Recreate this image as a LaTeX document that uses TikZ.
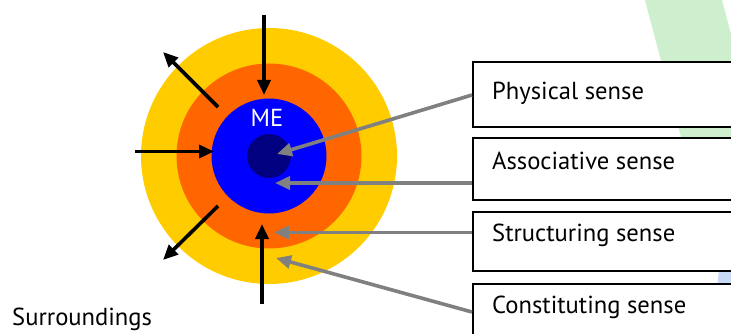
\documentclass[tikz,border=0pt]{standalone}
\usepackage{fontspec}
\setmainfont{PT Sans}
\usetikzlibrary{arrows.meta}
\definecolor{ringyellow}{HTML}{FFCC00}
\definecolor{ringorange}{HTML}{FF6600}
\definecolor{ringblue}{HTML}{0000FF}
\definecolor{ringnavy}{HTML}{000080}
\definecolor{pointgray}{HTML}{808080}
\definecolor{bandgreen}{HTML}{CDEFCD}
\definecolor{bandblue}{HTML}{C8DAF4}
\tikzset{
  ring/.style={circle, inner sep=0pt, draw=none},
  blackarrow/.style={line width=3.6pt, -{Triangle[length=15pt,width=13pt]}},
  grayarrow/.style={line width=3.6pt, pointgray, -{Triangle[length=15pt,width=13pt]}},
  sensebox/.style={draw=black, line width=2pt, fill=white, anchor=north west, minimum width=290pt, inner sep=0pt},
  sensetext/.style={anchor=base west, inner sep=0pt, font=\fontsize{24.6}{29}\selectfont},
}
\begin{document}
\begin{tikzpicture}[x=1pt,y=-1pt]
\useasboundingbox (0,0) rectangle (731,334);
\clip (0,0) rectangle (731,334);
\fill[white] (0,0) rectangle (731,334);
% background bands
\fill[bandgreen] (645,0) -- (722,0) -- (762,152) -- (685,152) -- cycle;
\fill[bandblue] (720,262) -- (745,262) -- (745,295) -- (716,295) -- cycle;
% rings
\node[ring, fill=ringyellow, minimum size=256pt] (outer) at (269,156) {};
\node[ring, fill=ringorange, minimum size=185pt] (middle) at (269,156) {};
\node[ring, fill=ringblue, minimum size=115pt] (inner) at (269,156) {};
\node[ring, fill=ringnavy, minimum size=44pt] (core) at (269,156) {};
\node[sensetext, anchor=base, text=white] (me) at (267,126.5) {ME};
% boxes
\node[sensebox, minimum height=65pt] (phys) at (472,61) {};
\node[sensebox, minimum height=61pt] (assoc) at (472,137.5) {};
\node[sensebox, minimum height=59pt] (struct) at (472,211) {};
\node[sensebox, minimum height=70pt] (const) at (472,283) {};
\node[sensetext] (physt) at (492,100) {Physical sense};
\node[sensetext] (assoct) at (492,169.5) {Associative sense};
\node[sensetext] (structt) at (492,241.5) {Structuring sense};
\node[sensetext] (constt) at (492,313) {Constituting sense};
\node[sensetext] (surr) at (12,325) {Surroundings};
% black arrow endpoints
\coordinate (t1) at (264,15);   \coordinate (h1) at (264,95);
\coordinate (t2) at (218,107);  \coordinate (h2) at (163,52);
\coordinate (t3) at (135,151.5);\coordinate (h3) at (214,151.5);
\coordinate (t4) at (218,206);  \coordinate (h4) at (163,260);
\coordinate (t5) at (262,304);  \coordinate (h5) at (262,224);
\draw[blackarrow] (t1) -- (h1);
\draw[blackarrow] (t2) -- (h2);
\draw[blackarrow] (t3) -- (h3);
\draw[blackarrow] (t4) -- (h4);
\draw[blackarrow] (t5) -- (h5);
% gray pointers
\coordinate (g1s) at (472,95);    \coordinate (g1e) at (277,154);
\coordinate (g2s) at (472,183);   \coordinate (g2e) at (275,183);
\coordinate (g3s) at (472,232.5); \coordinate (g3e) at (274,232.5);
\coordinate (g4s) at (472,312);   \coordinate (g4e) at (276,258);
\draw[grayarrow] (g1s) -- (g1e);
\draw[grayarrow] (g2s) -- (g2e);
\draw[grayarrow] (g3s) -- (g3e);
\draw[grayarrow] (g4s) -- (g4e);
\end{tikzpicture}
\end{document}
